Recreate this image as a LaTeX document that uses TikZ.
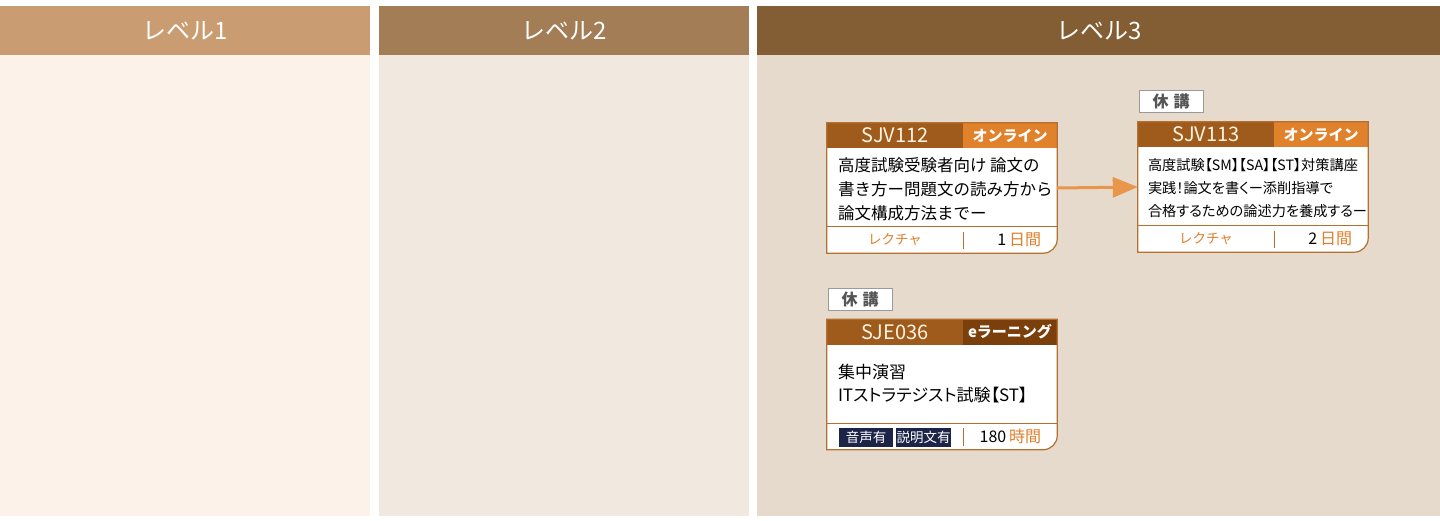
\documentclass[tikz,border=0pt]{standalone}
\usepackage{fontspec}
\setmainfont{Noto Sans CJK JP}
\newfontfamily\paltfont[RawFeature=+palt]{Noto Sans CJK JP}
\usetikzlibrary{shapes,arrows.meta,positioning}
\definecolor{lvonehead}{HTML}{C99D71}
\definecolor{lvonebody}{HTML}{FCF2EA}
\definecolor{lvtwohead}{HTML}{A37D55}
\definecolor{lvtwobody}{HTML}{F1E8DF}
\definecolor{lvthreehead}{HTML}{835D33}
\definecolor{lvthreebody}{HTML}{E6DACC}
\definecolor{cardbrown}{HTML}{9E5B1C}
\definecolor{cardedge}{HTML}{B5702F}
\definecolor{online}{HTML}{E0812B}
\definecolor{elearn}{HTML}{7B3F0C}
\definecolor{accent}{HTML}{E07F2A}
\definecolor{navy}{HTML}{1C2548}
\definecolor{arrowc}{HTML}{E8974A}
\definecolor{cream}{HTML}{FFF3E2}
\definecolor{kyukoedge}{HTML}{9A9A9A}
\definecolor{kyukotext}{HTML}{555555}

\begin{document}
\begin{tikzpicture}[x=1pt,y=-1pt,
colhead/.style={shape=rectangle,inner sep=0pt,text=white,font=\fontsize{24}{24}\selectfont,minimum height=49pt,anchor=north west},
colbody/.style={shape=rectangle,inner sep=0pt,minimum height=461pt,anchor=north west},
card/.style={shape=rectangle,inner sep=0pt,minimum width=230pt,minimum height=130pt},
cardline/.style={draw=cardedge,line width=1.2pt},
cardtitle/.style={shape=rectangle,inner sep=0pt,fill=cardbrown,text=cream,font=\fontsize{20}{20}\selectfont,minimum width=136pt,minimum height=25pt,anchor=north west},
badge/.style={shape=rectangle,inner sep=0pt,text=white,font=\bfseries\fontsize{15}{15}\selectfont,minimum width=94pt,minimum height=25pt,anchor=north east},
cardtext/.style={align=left,anchor=west,inner sep=0pt},
footleft/.style={shape=rectangle,inner sep=0pt,minimum width=136pt,minimum height=26pt,anchor=south west},
footright/.style={anchor=east,inner sep=0pt,font=\fontsize{16}{16}\selectfont},
kyuko/.style={shape=rectangle,draw=kyukoedge,fill=white,line width=0.8pt,text=kyukotext,font=\bfseries\fontsize{16}{16}\selectfont,minimum width=64pt,minimum height=22pt,inner sep=0pt},
tag/.style={shape=rectangle,fill=navy,text=white,font=\fontsize{13.5}{13.5}\selectfont,minimum height=19pt,inner sep=0pt}]
\useasboundingbox (0,0) rectangle (1440,520);
\fill[white] (0,0) rectangle (1440,520);

\node[colbody,fill=lvonebody,minimum width=370pt] (41) at (0,55) {};
\node[colbody,fill=lvtwobody,minimum width=370pt] (42) at (379,55) {};
\node[colbody,fill=lvthreebody,minimum width=683pt] (43) at (757,55) {};
\node[colhead,fill=lvonehead,minimum width=370pt] (31) at (0,6) {レベル1};
\node[colhead,fill=lvtwohead,minimum width=370pt] (32) at (379,6) {レベル2};
\node[colhead,fill=lvthreehead,minimum width=683pt] (33) at (757,6) {レベル3};

\node[card] (0) at (942,188) {};
\fill[white] (0.north west) -- (0.north east) -- ([yshift=14pt]0.south east) arc[start angle=0,end angle=-90,radius=14pt] -- (0.south west) -- cycle;
\node[cardtitle] (1) at (0.north west) {SJV112};
\node[badge,fill=online] (2) at (0.north east) {オンライン};
\node[cardtext,font=\fontsize{16.5}{24}\selectfont] (3) at ([xshift=11pt,yshift=-1pt]0.west) {高度試験受験者向け 論文の\\書き方ー問題文の読み方から\\論文構成方法までー};
\node[footleft,text=accent,font=\fontsize{13.5}{13.5}\selectfont] (4) at (0.south west) {レクチャ};
\node[footright] (5) at ([xshift=-16pt,yshift=13pt]0.south east) {1\,\textcolor{accent}{日間}};
\draw[cardline] (4.north west) -- (4.north west -| 0.east);
\draw[draw=cardedge,line width=1.2pt] ([yshift=-5pt]4.north east) -- ([yshift=4pt]4.south east);
\draw[cardline] (0.north west) -- (0.north east) -- ([yshift=14pt]0.south east) arc[start angle=0,end angle=-90,radius=14pt] -- (0.south west) -- cycle;

\node[card] (10) at (1253,187) {};
\fill[white] (10.north west) -- (10.north east) -- ([yshift=14pt]10.south east) arc[start angle=0,end angle=-90,radius=14pt] -- (10.south west) -- cycle;
\node[cardtitle] (11) at (10.north west) {SJV113};
\node[badge,fill=online] (12) at (10.north east) {オンライン};
\node[cardtext,font=\paltfont\fontsize{14.2}{23}\selectfont] (13) at ([xshift=10pt,yshift=-1pt]10.west) {高度試験【SM】【SA】【ST】対策講座\\実践！論文を書くー添削指導で\\合格するための論述力を養成するー};
\node[footleft,text=accent,font=\fontsize{13.5}{13.5}\selectfont] (14) at (10.south west) {レクチャ};
\node[footright] (15) at ([xshift=-16pt,yshift=13pt]10.south east) {2\,\textcolor{accent}{日間}};
\draw[cardline] (14.north west) -- (14.north west -| 10.east);
\draw[draw=cardedge,line width=1.2pt] ([yshift=-5pt]14.north east) -- ([yshift=4pt]14.south east);
\draw[cardline] (10.north west) -- (10.north east) -- ([yshift=14pt]10.south east) arc[start angle=0,end angle=-90,radius=14pt] -- (10.south west) -- cycle;
\node[kyuko] (16) at (1171,101) {休\hspace{5pt}講};

\node[card] (20) at (942,384.5) {};
\fill[white] (20.north west) -- (20.north east) -- ([yshift=14pt]20.south east) arc[start angle=0,end angle=-90,radius=14pt] -- (20.south west) -- cycle;
\node[cardtitle] (21) at (20.north west) {SJE036};
\node[badge,fill=elearn] (22) at (20.north east) {eラーニング};
\node[cardtext,font=\paltfont\fontsize{17}{23}\selectfont] (23) at ([xshift=11pt,yshift=1pt]20.west) {集中演習\\ITストラテジスト試験【ST】};
\node[footleft] (24) at (20.south west) {};
\node[footright] (25) at ([xshift=-16pt,yshift=13pt]20.south east) {180\,\textcolor{accent}{時間}};
\node[tag,minimum width=54pt] (26) at (866,437.5) {音声有};
\node[tag,minimum width=55pt] (27) at (923.5,437.5) {説明文有};
\draw[cardline] (24.north west) -- (24.north west -| 20.east);
\draw[draw=cardedge,line width=1.2pt] ([yshift=-5pt]24.north east) -- ([yshift=4pt]24.south east);
\draw[cardline] (20.north west) -- (20.north east) -- ([yshift=14pt]20.south east) arc[start angle=0,end angle=-90,radius=14pt] -- (20.south west) -- cycle;
\node[kyuko] (28) at (860,299) {休\hspace{5pt}講};

\draw [-{Triangle[length=25pt,width=20pt]},draw=arrowc,fill=arrowc,line width=3pt] (0.east) -- (10.west);
\end{tikzpicture}
\end{document}
